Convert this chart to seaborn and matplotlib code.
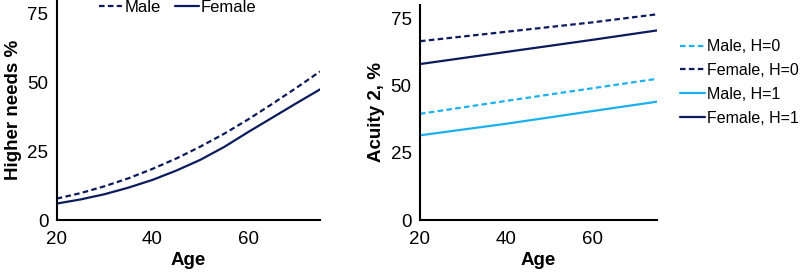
import numpy as np
import pandas as pd
import seaborn as sns
import matplotlib.pyplot as plt

# Left panel: higher needs % by age
age_left = [20, 25, 30, 35, 40, 45, 50, 55, 60, 65, 70, 75]
male_needs = [7.8, 9.8, 12.3, 15.2, 18.6, 22.4, 26.7, 31.4, 36.6, 42.2, 48.0, 54.0]
female_needs = [6.0, 7.5, 9.4, 11.8, 14.6, 18.0, 21.9, 26.6, 32.0, 37.2, 42.4, 47.5]

# Right panel: acuity 2 % by age
age_right = [20, 40, 60, 75]
male_h0 = [39.5, 44.3, 49.0, 52.5]
female_h0 = [66.5, 70.0, 73.5, 76.5]
male_h1 = [31.5, 35.8, 40.5, 44.0]
female_h1 = [58.0, 62.5, 67.0, 70.5]

navy = "#0b1b5c"
light = "#1cb0ef"

sns.set_style("white")
plt.rcParams['font.family'] = ['Liberation Sans', 'DejaVu Sans']
plt.rcParams['text.color'] = 'black'
plt.rcParams['axes.labelcolor'] = 'black'
plt.rcParams['xtick.color'] = 'black'
plt.rcParams['ytick.color'] = 'black'

left_df = pd.DataFrame({
    "Age": age_left * 2,
    "value": male_needs + female_needs,
    "group": ["Male"] * len(age_left) + ["Female"] * len(age_left),
})

right_groups = ["Male, H=0", "Female, H=0", "Male, H=1", "Female, H=1"]
right_vals = [male_h0, female_h0, male_h1, female_h1]
right_df = pd.DataFrame({
    "Age": age_right * 4,
    "value": sum(right_vals, []),
    "group": [g for g in right_groups for _ in age_right],
})

fig = plt.figure(figsize=(8, 2.72), dpi=100)
ax1 = fig.add_axes([0.071, 0.191, 0.329, 0.809])
ax2 = fig.add_axes([0.525, 0.191, 0.296, 0.791])

dash = (2.5, 1.5)
sns.lineplot(data=left_df, x="Age", y="value", hue="group", style="group",
             palette={"Male": navy, "Female": navy},
             dashes={"Male": dash, "Female": ""},
             linewidth=1.6, ax=ax1)

sns.lineplot(data=right_df, x="Age", y="value", hue="group", style="group",
             palette={"Male, H=0": light, "Female, H=0": navy,
                      "Male, H=1": light, "Female, H=1": navy},
             dashes={"Male, H=0": dash, "Female, H=0": dash,
                     "Male, H=1": "", "Female, H=1": ""},
             linewidth=1.6, ax=ax2)

for ax, ylab in [(ax1, "Higher needs %"), (ax2, "Acuity 2, %")]:
    ax.set_xlim(20, 75)
    ax.set_ylim(0, 80)
    ax.set_xticks([20, 40, 60])
    ax.set_yticks([0, 25, 50, 75])
    ax.tick_params(length=0, labelsize=13.5)
    ax.tick_params(axis="x", pad=8)
    ax.tick_params(axis="y", pad=6)
    ax.set_xlabel("Age", fontsize=13.5, fontweight="bold", labelpad=3)
    ax.set_ylabel(ylab, fontsize=13.5, fontweight="bold", labelpad=4)
    sns.despine(ax=ax)
    for s in ["left", "bottom"]:
        ax.spines[s].set_color("black")
        ax.spines[s].set_linewidth(1.5)

ax1.legend(title=None, ncol=2, frameon=False, fontsize=12,
           loc="center", bbox_to_anchor=(0.46, 0.966),
           handlelength=1.4, handletextpad=0.15, columnspacing=0.85,
           borderpad=0, borderaxespad=0)
ax2.legend(title=None, frameon=False, fontsize=11.5,
           loc="center left", bbox_to_anchor=(1.097, 0.64),
           handlelength=1.55, handletextpad=0.15, labelspacing=0.55,
           borderpad=0, borderaxespad=0)

fig.savefig("out.png", dpi=100)
